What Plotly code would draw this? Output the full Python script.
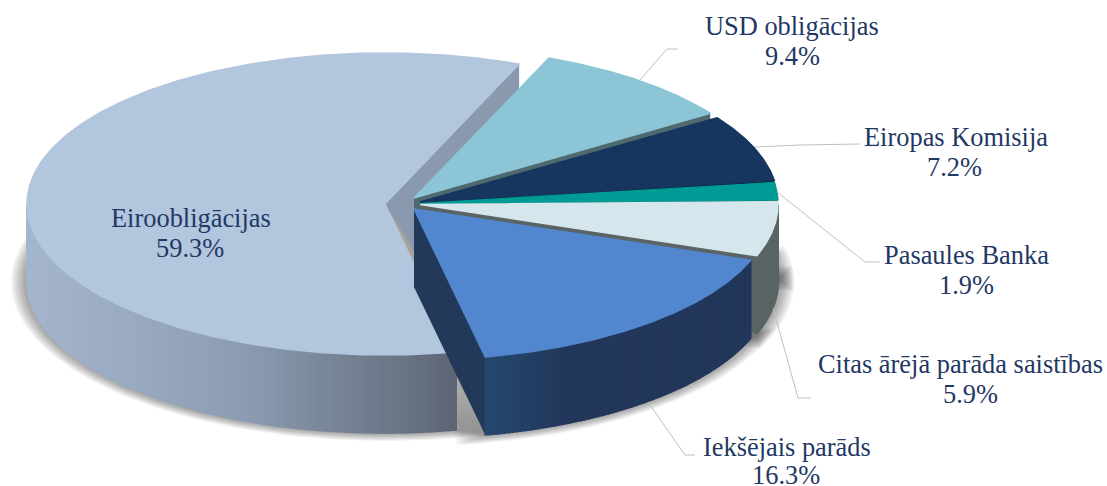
import numpy as np
import plotly.graph_objects as go

# ---- data (clockwise from the start angle) ----
categories = ["USD obligācijas", "Eiropas Komisija", "Pasaules Banka",
              "Citas ārējā parāda saistības", "Iekšējais parāds", "Eiroobligācijas"]
shares = [9.4, 7.2, 1.9, 5.9, 16.3, 59.3]

# ---- styling / layout ----
W, H = 1107, 486
RX, RY, DEPTH = 358, 151, 78
START = 68.0
APEX = [(414, 198), (420, 202), (420, 203.5), (420, 204.5), (414, 209), (385, 204)]
TOP = ["#8cc5d6", "#17365f", "#009b94", "#d5e6ed", "#5287cf", "#b2c6de"]
FACE = ["#4f6a6f", "#071f3d", "#004f4c", "#5a6464", "#22395a", "#8a99ad"]
# wall colours, left to right across the visible wall: (stop, colour)
WALL = {3: [(0, "#5a6464"), (1, "#5a6464")],
        4: [(0, "#27486f"), (0.3, "#22375a"), (1, "#22375a")],
        5: [(0, "#a5b6ce"), (0.5, "#8c9db3"), (1, "#5e6675")]}
TEXT = "#1f3864"
LINE = "#bfbfbf"
FONT = "Liberation Serif"
FONT_SIZE = 26.4
# name x, name y, share x, share y
LABEL_POS = [(792, 26, 792, 56), (956, 137, 954, 167), (966, 255, 966, 285),
             (960.5, 364, 970, 394), (786.5, 447, 786, 475), (191, 218, 189.5, 248)]
LEADERS = [
    [(640, 80), (667, 49), (678, 49)],
    [(755, 147), (800, 145), (860, 144)],
    [(777, 192), (865, 262), (880, 262)],
    [(773, 308), (798, 398), (811, 398)],
    [(648, 402), (685, 455), (695, 455)],
]

fig = go.Figure()


def poly(xs, ys, color, line=None):
    fig.add_trace(go.Scatter(
        x=list(xs), y=list(ys), mode="lines", fill="toself", fillcolor=color,
        line=dict(color=line or "rgba(0,0,0,0)", width=1.5 if line else 0),
        hoverinfo="skip", showlegend=False))


def rim(c, t, dy=0.0, grow=0.0, squash=0.5):
    r = np.radians(t)
    return (c[0] + (RX + grow) * np.cos(r),
            c[1] + dy - (RY + grow * squash) * np.sin(r))


def hex2(c):
    return np.array([int(c[i:i + 2], 16) for i in (1, 3, 5)], float)


def wall_colour(stops, f):
    xs = [s[0] for s in stops]
    rgb = [np.interp(f, xs, [hex2(s[1])[k] for s in stops]) for k in range(3)]
    return "rgb(%d,%d,%d)" % tuple(rgb)


total = sum(shares)
spans = []
angle = START
for s in shares:
    end = angle - s / total * 360
    spans.append((angle, end))
    angle = end

# soft shadow under the slices
for grow in range(16, 0, -2):
    for i in (5, 4, 3, 2):
        a0, a1 = spans[i]
        d = grow * 0.3
        x, y = rim(APEX[i], np.linspace(a0 + d, a1 - d, 120), DEPTH, grow)
        ax, ay = APEX[i][0], APEX[i][1] + DEPTH
        poly([ax, *x, ax], [ay, *y, ay], "rgba(0,0,0,0.05)")

# slices back to front
for i in [5, 0, 1, 2, 3, 4]:
    c = APEX[i]
    a0, a1 = spans[i]
    # cut face on the clockwise edge of the slice
    px, py = rim(c, a1)
    poly([c[0], px, px, c[0], c[0]], [c[1], py, py + DEPTH, c[1] + DEPTH, c[1]], FACE[i])
    # outer wall, front half only
    vis_a, vis_b = min(a0, 0), max(a1, -180)
    if vis_a > vis_b and i in WALL:
        edges = np.linspace(vis_a, vis_b, 91)
        x_ends = rim(c, edges)[0]
        x_min, x_max = x_ends.min(), x_ends.max()
        for t0, t1 in zip(edges[:-1], edges[1:]):
            f = (rim(c, (t0 + t1) / 2)[0] - x_min) / (x_max - x_min)
            col = wall_colour(WALL[i], f)
            sub = np.linspace(t0, t1, 3)
            x, y = rim(c, sub)
            xb, yb = rim(c, sub[::-1], DEPTH)
            poly([*x, *xb, x[0]], [*y, *yb, y[0]], col, col)
    if i == 5:
        # shaded sliver in the notch beside the large slice
        x, y = rim(c, np.linspace(a0 + 3, a0, 5))
        poly([c[0], *x, c[0]], [c[1], *y, c[1]], "#a9a39c")
    # top
    x, y = rim(c, np.linspace(a0, a1, 240))
    poly([c[0], *x, c[0]], [c[1], *y, c[1]], TOP[i], TOP[i])

# leader lines
for pts in LEADERS:
    fig.add_trace(go.Scatter(x=[p[0] for p in pts], y=[p[1] for p in pts], mode="lines",
                             line=dict(color=LINE, width=1), hoverinfo="skip", showlegend=False))

# labels
for name, share, (x1, y1, x2, y2) in zip(categories, shares, LABEL_POS):
    for txt, lx, ly in ((name, x1, y1), (f"{share:.1f}%", x2, y2)):
        fig.add_annotation(x=lx, y=ly, text=txt, showarrow=False,
                           xanchor="center", yanchor="middle", align="center",
                           font=dict(family=FONT, size=FONT_SIZE, color=TEXT))

fig.update_layout(
    width=W, height=H, margin=dict(l=0, r=0, t=0, b=0),
    paper_bgcolor="white", plot_bgcolor="white", showlegend=False,
    xaxis=dict(range=[0, W], visible=False, fixedrange=True),
    yaxis=dict(range=[H, 0], visible=False, fixedrange=True),
)
fig.write_html("out.html", config={"displayModeBar": False},
               post_script="document.body.style.margin='0';")
